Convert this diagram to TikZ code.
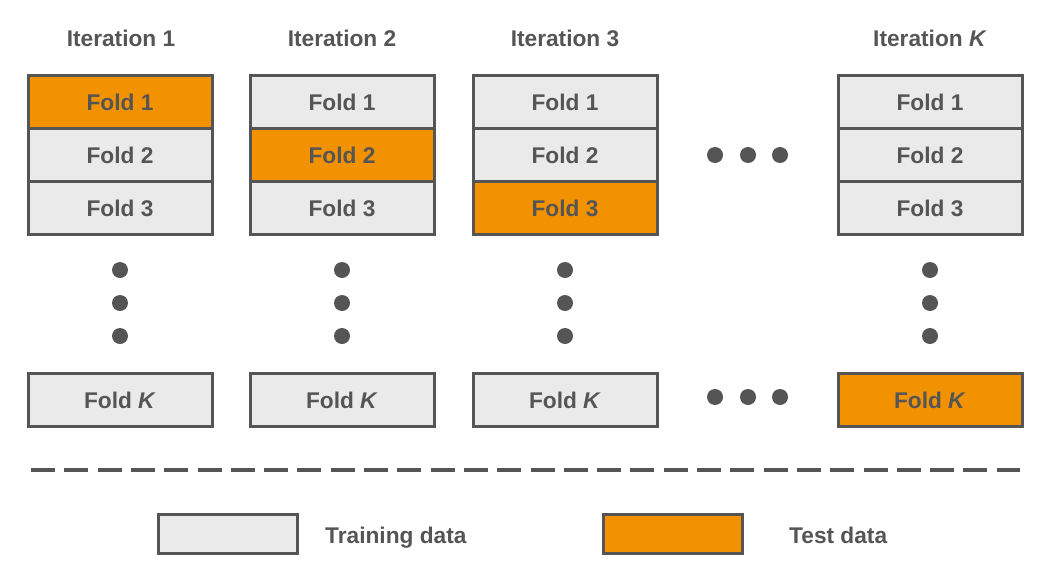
\documentclass[tikz,border=0pt]{standalone}
\usepackage{fontspec}
\setmainfont{Liberation Sans}
\definecolor{txtgray}{HTML}{555555}
\definecolor{linegray}{HTML}{555555}
\definecolor{traingray}{HTML}{EAEAEA}
\definecolor{testorange}{HTML}{F39200}
\begin{document}
\begin{tikzpicture}[x=1pt,y=-1pt,
  fold/.style={draw=linegray,line width=3pt,fill=traingray,minimum width=184pt,minimum height=53pt,inner sep=0pt,text=txtgray,font=\fontsize{22.7}{26}\selectfont\bfseries},
  testfold/.style={fold,fill=testorange},
  title/.style={text=txtgray,font=\fontsize{22.7}{26}\selectfont\bfseries,inner sep=0pt},
  legbox/.style={draw=linegray,line width=3pt,minimum width=139pt,minimum height=39pt,inner sep=0pt},
  legtext/.style={text=txtgray,font=\fontsize{22.7}{26}\selectfont\bfseries,inner sep=0pt,anchor=base west},
  dot/.style={circle,fill=linegray,minimum size=16pt,inner sep=0pt}]
\useasboundingbox (0,0) rectangle (1050,584);
% titles
\node[title] (t1) at (121,38) {Iteration 1};
\node[title] (t2) at (342,38) {Iteration 2};
\node[title] (t3) at (565,38) {Iteration 3};
\node[title] (t4) at (930,38) {Iteration \textit{K}};
% column 1
\node[testfold] (a1) at (120,102) {Fold 1};
\node[fold] (a2) at (120,155) {Fold 2};
\node[fold] (a3) at (120,208) {Fold 3};
\node[fold] (aK) at (120,400) {Fold \textit{K}};
% column 2
\node[fold] (b1) at (342,102) {Fold 1};
\node[testfold] (b2) at (342,155) {Fold 2};
\node[fold] (b3) at (342,208) {Fold 3};
\node[fold] (bK) at (342,400) {Fold \textit{K}};
% column 3
\node[fold] (c1) at (565,102) {Fold 1};
\node[fold] (c2) at (565,155) {Fold 2};
\node[testfold] (c3) at (565,208) {Fold 3};
\node[fold] (cK) at (565,400) {Fold \textit{K}};
% column 4
\node[fold] (d1) at (930,102) {Fold 1};
\node[fold] (d2) at (930,155) {Fold 2};
\node[fold] (d3) at (930,208) {Fold 3};
\node[testfold] (dK) at (930,400) {Fold \textit{K}};
% vertical dots
\foreach \x/\n in {120/a,342/b,565/c,930/d}{
  \node[dot] (\n v1) at (\x,270) {};
  \node[dot] (\n v2) at (\x,303) {};
  \node[dot] (\n v3) at (\x,336) {};
}
% horizontal dots
\node[dot] (h1) at (715,155) {};
\node[dot] (h2) at (748,155) {};
\node[dot] (h3) at (780,155) {};
\node[dot] (k1) at (715,397) {};
\node[dot] (k2) at (748,397) {};
\node[dot] (k3) at (780,397) {};
% dashed separator
\coordinate (sepL) at (31,470);
\coordinate (sepR) at (1020,470);
\draw[linegray,line width=4pt,dash pattern=on 24pt off 9.3pt] (sepL) -- (sepR);
% legend
\node[legbox,fill=traingray] (ltrain) at (228,534) {};
\node[legtext] (ltraintext) at (325,543) {Training data};
\node[legbox,fill=testorange] (ltest) at (673,534) {};
\node[legtext] (ltesttext) at (789,543) {Test data};
\end{tikzpicture}
\end{document}
